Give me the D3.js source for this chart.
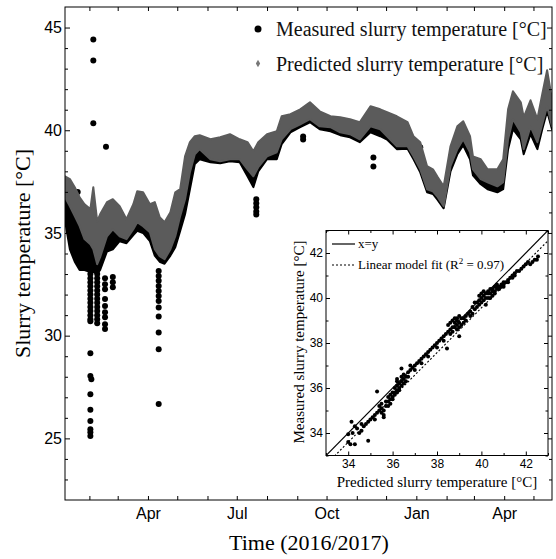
<!DOCTYPE html>
<html><head><meta charset="utf-8">
<script src="https://cdn.jsdelivr.net/npm/d3@7"></script>
<style>body{margin:0;background:#fff}svg{display:block}</style>
</head><body>
<script>
// ---------- DATA ----------
const bandDates = ["2016-01-07","2016-01-12","2016-01-17","2016-01-22","2016-01-27","2016-02-02","2016-02-05","2016-02-09","2016-02-12","2016-02-19","2016-02-25","2016-03-03","2016-03-10","2016-03-17","2016-03-21","2016-03-27","2016-04-03","2016-04-08","2016-04-13","2016-04-18","2016-04-24","2016-04-29","2016-05-04","2016-05-09","2016-05-14","2016-05-19","2016-05-24","2016-06-04","2016-06-14","2016-06-24","2016-07-04","2016-07-12","2016-07-18","2016-07-23","2016-08-01","2016-08-11","2016-08-16","2016-08-25","2016-09-04","2016-09-14","2016-09-24","2016-10-05","2016-10-15","2016-10-25","2016-11-04","2016-11-15","2016-11-25","2016-12-02","2016-12-12","2016-12-23","2016-12-29","2017-01-05","2017-01-12","2017-01-18","2017-01-23","2017-01-29","2017-02-05","2017-02-12","2017-02-18","2017-02-25","2017-02-28","2017-03-08","2017-03-15","2017-03-25","2017-03-31","2017-04-05","2017-04-10","2017-04-18","2017-04-21","2017-04-28","2017-05-05","2017-05-10","2017-05-15","2017-05-20"];
// predicted slurry temperature: upper / lower envelope of the dense hourly points
const predHigh = [37.76,37.62,37.23,36.74,36.40,36.16,37.23,35.57,35.91,36.50,36.64,36.30,35.67,36.40,37.03,36.98,36.40,36.50,35.77,35.52,36.01,36.98,37.13,38.73,39.42,39.71,39.76,39.56,39.66,39.81,39.56,39.42,38.98,39.42,39.81,39.95,40.68,40.78,41.02,41.36,40.92,40.68,40.63,40.54,40.39,41.17,41.02,40.88,40.68,40.39,39.71,39.42,38.25,38.10,37.71,37.27,39.22,40.19,40.44,39.71,38.73,38.59,38.10,38.10,38.59,41.02,41.90,41.36,40.63,41.46,40.54,41.75,42.92,41.51];
const predLow = [36.74,36.30,35.82,35.33,34.70,34.45,34.21,33.48,33.82,34.84,35.18,34.84,34.70,35.18,35.52,35.33,35.04,34.21,33.87,33.72,34.21,34.84,35.82,36.64,37.96,38.83,39.08,38.59,38.49,38.59,38.59,38.10,37.76,38.20,38.73,38.93,39.56,40.05,40.29,40.54,40.19,40.15,39.90,39.81,39.56,40.19,40.05,39.71,39.22,39.22,38.73,38.10,37.13,37.03,36.74,36.30,38.25,39.08,39.56,38.93,38.10,37.62,37.47,37.27,37.47,39.56,40.54,39.90,39.08,40.19,39.42,40.29,41.17,40.19];
// measured slurry temperature: upper / lower envelope
const measHigh = [37.2,37.0,36.5,36.0,35.5,35.3,35.7,34.5,34.9,35.7,35.9,35.6,35.2,35.8,36.3,36.2,35.7,35.4,34.8,34.6,35.1,35.9,36.5,37.7,38.7,39.3,39.4,39.1,39.1,39.2,39.1,38.8,38.4,38.8,39.3,39.4,40.1,40.4,40.7,40.9,40.6,40.4,40.3,40.2,40.0,40.7,40.5,40.3,39.9,39.8,39.2,38.8,37.7,37.6,37.2,36.8,38.7,39.6,40.0,39.3,38.4,38.1,37.8,37.7,38.0,40.3,41.2,40.6,39.9,40.8,40.0,41.0,42.0,40.9];
const measLow = [35.6,34.2,33.6,33.2,33.2,33.1,33.1,33.0,33.2,34.1,34.2,34.6,34.5,34.9,35.1,35.0,34.6,33.9,33.6,33.5,33.9,34.3,35.1,35.91,37.13,38.35,38.59,38.44,38.39,38.49,38.44,37.76,37.23,38.00,38.59,38.59,39.32,39.90,40.15,40.39,40.05,39.95,39.76,39.66,39.42,39.90,39.71,39.55,39.08,39.10,38.60,37.95,36.98,36.90,36.60,36.20,38.00,38.83,39.27,38.59,37.81,37.37,37.13,36.98,37.13,39.08,40.05,39.56,38.83,39.81,39.08,40.05,40.92,40.05];
// isolated measured points (outliers) [date, °C]
const measuredOutliers = [
 ["2016-01-20",37.0],
 ["2016-02-05",44.42],["2016-02-05",43.40],["2016-02-05",40.34],["2016-02-18",39.20],
 ["2016-02-02",33.0],["2016-02-02",32.8],["2016-02-02",32.6],["2016-02-02",32.4],["2016-02-02",32.2],["2016-02-02",32.0],["2016-02-02",31.8],["2016-02-02",31.6],["2016-02-02",31.4],["2016-02-02",31.2],["2016-02-02",31.0],["2016-02-02",30.8],["2016-02-02",30.7],
 ["2016-02-02",29.15],["2016-02-02",28.04],["2016-02-03",27.88],["2016-02-02",27.15],["2016-02-02",26.39],["2016-02-02",25.85],["2016-02-02",25.45],["2016-02-02",25.30],["2016-02-02",25.12],
 ["2016-02-09",33.0],["2016-02-09",32.8],["2016-02-09",32.6],["2016-02-09",32.4],["2016-02-09",32.2],["2016-02-09",32.0],["2016-02-09",31.8],["2016-02-09",31.6],["2016-02-09",31.4],["2016-02-09",31.2],["2016-02-09",31.0],["2016-02-09",30.8],["2016-02-09",30.6],
 ["2016-02-17",32.8],["2016-02-17",32.5],["2016-02-17",32.26],["2016-02-17",31.78],["2016-02-17",31.45],["2016-02-17",31.14],["2016-02-17",30.9],["2016-02-17",30.56],["2016-02-17",30.32],
 ["2016-02-25",32.85],["2016-02-25",32.6],["2016-02-25",32.36],
 ["2016-03-22",35.28],
 ["2016-04-12",33.15],["2016-04-12",32.9],["2016-04-12",32.67],["2016-04-12",32.42],["2016-04-12",32.18],["2016-04-12",31.93],["2016-04-12",31.69],["2016-04-12",31.37],["2016-04-12",30.93],["2016-04-12",30.15],["2016-04-12",29.34],["2016-04-12",26.67],
 ["2016-07-21",36.64],["2016-07-21",36.45],["2016-07-21",36.25],["2016-07-21",36.05],["2016-07-21",35.90],
 ["2016-09-07",39.70],["2016-09-07",39.55],
 ["2016-11-18",38.67],["2016-11-18",38.23],
 ["2017-01-05",39.17]
];
const xLabelMonths = ["Apr","Jul","Oct","Jan"];
const yMajorTicks = [25,30,35,40,45];
const legendLabels = ["Measured slurry temperature [°C]","Predicted slurry temperature [°C]"];

// inset: predicted vs measured
const insetPredicted = [34.0,34.0,34.1,34.3,34.9,34.15,34.3,34.4,34.6,34.7,34.6,34.9,35.0,35.1,35.2,35.3,35.2,35.4,35.5,35.6,35.6,35.7,35.3,35.8,35.9,35.9,36.0,36.0,36.1,36.1,36.2,36.2,36.3,36.3,36.2,36.4,36.4,36.5,36.5,36.4,36.6,36.7,36.8,36.8,36.9,37.0,37.1,37.2,37.3,37.4,37.5,37.6,37.7,37.8,37.9,38.0,38.1,38.2,38.3,38.45,38.4,38.5,38.5,38.6,38.6,38.7,38.7,38.8,38.8,38.8,38.9,38.9,39.0,39.0,39.0,39.1,39.2,39.2,39.3,39.4,39.5,39.5,39.6,39.7,39.8,39.8,39.9,39.9,40.0,40.0,40.1,40.1,40.2,40.2,40.2,40.3,40.3,40.4,40.4,40.5,40.5,40.6,40.6,40.7,40.7,40.8,40.9,41.0,41.0,41.1,41.2,41.3,41.4,41.5,41.6,41.7,41.9,42.0,42.2,42.3,42.4,42.55,
  35.4,35.5,35.6,35.7,35.8,35.9,36.0,36.1,36.2,36.3,36.4,36.5,36.6,36.2,35.5,35.8,34.8,34.5,34.2,36.7,37.0,37.3,37.6,38.0,38.3,38.6,38.7,38.9,39.0,38.9,39.1,39.3,39.6,39.7,39.9,40.0,40.1,40.3,40.4,40.5,40.6,40.7,40.8,40.9,41.0,41.2,41.4,41.5,41.8,42.1,42.5];
const insetMeasured = [33.94,33.6,33.5,33.5,33.66,34.5,34.3,34.2,34.1,34.3,34.4,34.5,34.6,34.7,34.8,34.9,34.6,35.0,35.1,34.8,34.7,35.2,35.84,35.4,35.5,35.3,35.6,35.8,35.7,36.0,35.9,36.1,36.2,35.9,36.4,36.3,36.5,36.2,36.6,36.87,36.5,36.7,36.8,37.0,36.9,37.0,37.1,37.2,37.3,37.4,37.5,37.6,37.7,37.8,37.9,38.0,38.1,38.2,38.3,37.76,38.4,38.5,38.8,38.9,38.6,39.0,38.7,38.9,39.1,38.7,38.8,39.0,38.3,38.9,38.7,39.1,38.9,39.1,39.2,39.3,39.4,39.2,39.6,39.5,39.8,39.6,39.9,40.1,39.8,40.2,40.1,39.9,40.0,40.2,39.7,40.3,40.0,40.2,40.4,40.3,40.1,40.5,40.3,40.5,40.4,40.5,40.6,40.7,40.6,40.7,40.8,40.9,41.0,41.0,41.2,41.2,41.4,41.5,41.5,41.6,41.7,41.84,
  35.2,34.9,35.0,35.4,35.6,35.7,35.5,35.8,35.8,36.0,36.1,36.4,36.3,36.3,35.3,35.2,34.4,34.0,34.0,36.5,36.8,37.1,37.4,37.8,38.1,38.4,38.5,38.6,39.2,39.1,38.8,39.0,39.3,39.8,39.7,40.0,40.3,40.2,40.0,40.4,40.2,40.6,40.4,40.5,40.5,40.7,40.9,41.1,41.3,41.6,41.7];
const insetTicks = [34,36,38,40,42];
const fitSlope = 0.995, fitIntercept = -0.24;   // linear model fit, R² = 0.97
const insetLegend = ["x=y","Linear model fit (R","2"," = 0.97)"];

// ---------- CHART ----------
const W = 556, H = 559;
const parse = d3.timeParse("%Y-%m-%d");
const M = {left:65, right:552, top:7, bottom:500};
const SANS = "'Liberation Sans', Arial, sans-serif";
const SERIF = "'Liberation Serif', 'Times New Roman', serif";
const GRAY = "#5b5b5b";

const svg = d3.select("body").append("svg").attr("width", W).attr("height", H);
const x = d3.scaleTime().domain([parse("2016-01-07"), parse("2017-05-20")]).range([M.left, M.right]);
const y = d3.scaleLinear().domain([22, 46]).range([M.bottom, M.top]);

svg.append("defs").append("clipPath").attr("id","clipMain").append("rect")
  .attr("x", M.left).attr("y", M.top).attr("width", M.right - M.left).attr("height", M.bottom - M.top);

const band = bandDates.map((d,i) => ({date: parse(d), pH: predHigh[i], pL: predLow[i], mH: measHigh[i], mL: measLow[i]}));
const plot = svg.append("g").attr("clip-path","url(#clipMain)");

// measured band + outliers (black)
plot.append("path").datum(band)
  .attr("d", d3.area().x(d => x(d.date)).y0(d => y(d.mL)).y1(d => y(d.mH)))
  .attr("fill","#000").attr("stroke","#000").attr("stroke-width",2).attr("stroke-linejoin","round");
plot.selectAll("circle.out").data(measuredOutliers).join("circle").attr("class","out")
  .attr("cx", d => x(parse(d[0]))).attr("cy", d => y(d[1])).attr("r", 3).attr("fill","#000");
// predicted band (gray) on top
plot.append("path").datum(band)
  .attr("d", d3.area().x(d => x(d.date)).y0(d => y(d.pL)).y1(d => y(d.pH)))
  .attr("fill", GRAY).attr("stroke", GRAY).attr("stroke-width",2).attr("stroke-linejoin","round");

// axes
const months = d3.timeMonth.range(d3.timeMonth.ceil(x.domain()[0]), x.domain()[1]);
const fmt = d3.timeFormat("%b");
const styleAxis = (g, size) => { g.select(".domain").remove(); g.attr("font-family", SANS).attr("font-size", size); g.selectAll("text").attr("fill","#000"); g.selectAll("line").attr("stroke","#000"); };

svg.append("g").attr("transform",`translate(0,${M.bottom})`)
  .call(d3.axisBottom(x).tickValues(months).tickSize(-4).tickPadding(7.5)
    .tickFormat(d => xLabelMonths.includes(fmt(d)) ? fmt(d) : ""))
  .call(g => styleAxis(g, 16));
svg.append("g").attr("transform",`translate(0,${M.top})`)
  .call(d3.axisTop(x).tickValues(months).tickSize(-4).tickFormat(""))
  .call(g => styleAxis(g, 16));

const yMinor = d3.range(23, 46).filter(v => !yMajorTicks.includes(v));
svg.append("g").attr("transform",`translate(${M.left},0)`)
  .call(d3.axisLeft(y).tickValues(yMajorTicks).tickSize(-5).tickPadding(3).tickFormat(d3.format("d")))
  .call(g => styleAxis(g, 16));
svg.append("g").attr("transform",`translate(${M.left},0)`)
  .call(d3.axisLeft(y).tickValues(yMinor).tickSize(-3).tickFormat(""))
  .call(g => styleAxis(g, 16));
svg.append("g").attr("transform",`translate(${M.right},0)`)
  .call(d3.axisRight(y).tickValues(yMajorTicks).tickSize(-5).tickFormat(""))
  .call(g => styleAxis(g, 16));
svg.append("g").attr("transform",`translate(${M.right},0)`)
  .call(d3.axisRight(y).tickValues(yMinor).tickSize(-3).tickFormat(""))
  .call(g => styleAxis(g, 16));

svg.append("rect").attr("x", M.left).attr("y", M.top).attr("width", M.right - M.left).attr("height", M.bottom - M.top)
  .attr("fill","none").attr("stroke","#000").attr("stroke-width",1);

// axis titles
svg.append("text").attr("x", 309).attr("y", 550).attr("text-anchor","middle")
  .attr("font-family", SERIF).attr("font-size", 22).text("Time (2016/2017)");
svg.append("text").attr("transform","translate(30,253.5) rotate(-90)").attr("text-anchor","middle")
  .attr("font-family", SERIF).attr("font-size", 22).text("Slurry temperature [°C]");

// legend
svg.append("circle").attr("cx", 258).attr("cy", 29).attr("r", 3.5).attr("fill","#000");
svg.append("path").attr("transform","translate(258,63.5)").attr("d", d3.symbol(d3.symbolDiamond, 16)()).attr("fill","#777");
legendLabels.forEach((t,i) => svg.append("text").attr("x", 276).attr("y", i ? 70.5 : 35.5)
  .attr("font-family", SERIF).attr("font-size", 20).attr("fill","#111").text(t));

// ---------- INSET ----------
const I = {left:326, right:548, top:230.5, bottom:455.5};
const ix = d3.scaleLinear().domain([33,43]).range([I.left, I.right]);
const iy = d3.scaleLinear().domain([33,43]).range([I.bottom, I.top]);
svg.append("rect").attr("x", I.left).attr("y", I.top).attr("width", I.right - I.left).attr("height", I.bottom - I.top).attr("fill","#fff");
svg.append("defs").append("clipPath").attr("id","clipInset").append("rect")
  .attr("x", I.left).attr("y", I.top).attr("width", I.right - I.left).attr("height", I.bottom - I.top);
const ins = svg.append("g").attr("clip-path","url(#clipInset)");
ins.append("line").attr("x1", ix(33)).attr("y1", iy(33)).attr("x2", ix(43)).attr("y2", iy(43)).attr("stroke","#000").attr("stroke-width",1.2);
ins.append("line").attr("x1", ix(33)).attr("y1", iy(fitSlope*33+fitIntercept)).attr("x2", ix(43)).attr("y2", iy(fitSlope*43+fitIntercept))
  .attr("stroke","#000").attr("stroke-width",1.1).attr("stroke-dasharray","2,2");
ins.selectAll("circle").data(insetPredicted).join("circle")
  .attr("cx", d => ix(d)).attr("cy", (d,i) => iy(insetMeasured[i])).attr("r", 2).attr("fill","#000");

const iMinor = d3.range(33, 44).filter(v => !insetTicks.includes(v));
svg.append("g").attr("transform",`translate(0,${I.bottom})`)
  .call(d3.axisBottom(ix).tickValues(insetTicks).tickSize(-4).tickPadding(4).tickFormat(d3.format("d"))).call(g => styleAxis(g, 12));
svg.append("g").attr("transform",`translate(0,${I.bottom})`)
  .call(d3.axisBottom(ix).tickValues(iMinor).tickSize(-2.5).tickFormat("")).call(g => styleAxis(g, 12));
svg.append("g").attr("transform",`translate(0,${I.top})`)
  .call(d3.axisTop(ix).tickValues(insetTicks).tickSize(-4).tickFormat("")).call(g => styleAxis(g, 12));
svg.append("g").attr("transform",`translate(0,${I.top})`)
  .call(d3.axisTop(ix).tickValues(iMinor).tickSize(-2.5).tickFormat("")).call(g => styleAxis(g, 12));
svg.append("g").attr("transform",`translate(${I.left},0)`)
  .call(d3.axisLeft(iy).tickValues(insetTicks).tickSize(-4).tickPadding(3).tickFormat(d3.format("d"))).call(g => styleAxis(g, 12));
svg.append("g").attr("transform",`translate(${I.left},0)`)
  .call(d3.axisLeft(iy).tickValues(iMinor).tickSize(-2.5).tickFormat("")).call(g => styleAxis(g, 12));
svg.append("g").attr("transform",`translate(${I.right},0)`)
  .call(d3.axisRight(iy).tickValues(insetTicks).tickSize(-4).tickFormat("")).call(g => styleAxis(g, 12));
svg.append("g").attr("transform",`translate(${I.right},0)`)
  .call(d3.axisRight(iy).tickValues(iMinor).tickSize(-2.5).tickFormat("")).call(g => styleAxis(g, 12));
svg.append("rect").attr("x", I.left).attr("y", I.top).attr("width", I.right - I.left).attr("height", I.bottom - I.top)
  .attr("fill","none").attr("stroke","#000").attr("stroke-width",1);

svg.append("text").attr("x", 437).attr("y", 487).attr("text-anchor","middle")
  .attr("font-family", SERIF).attr("font-size", 15).text("Predicted slurry temperature [°C]");
svg.append("text").attr("transform","translate(304,342) rotate(-90)").attr("text-anchor","middle")
  .attr("font-family", SERIF).attr("font-size", 15).text("Measured slurry temperature [°C]");

// inset legend
svg.append("line").attr("x1", 332).attr("x2", 355).attr("y1", 244).attr("y2", 244).attr("stroke","#000").attr("stroke-width",1.2);
svg.append("text").attr("x", 358).attr("y", 248).attr("font-family", SERIF).attr("font-size", 13).text(insetLegend[0]);
svg.append("line").attr("x1", 332).attr("x2", 355).attr("y1", 265).attr("y2", 265).attr("stroke","#000").attr("stroke-width",1.1).attr("stroke-dasharray","2,2");
const lt = svg.append("text").attr("x", 358).attr("y", 269).attr("font-family", SERIF).attr("font-size", 13);
lt.append("tspan").text(insetLegend[1]);
lt.append("tspan").attr("font-size", 9).attr("dy", -5).text(insetLegend[2]);
lt.append("tspan").attr("dy", 5).text(insetLegend[3]);
</script>
</body></html>
